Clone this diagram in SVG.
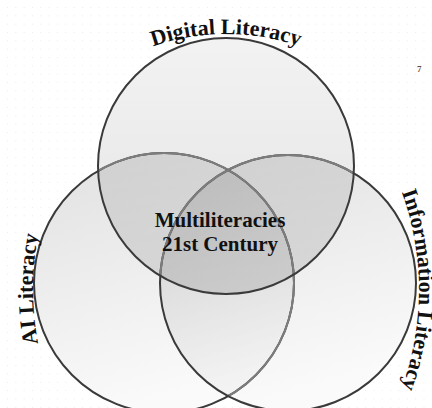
<svg xmlns="http://www.w3.org/2000/svg" width="432" height="408" viewBox="0 0 432 408">
  <defs>
    <pattern id="dots" x="7" y="7" width="8.33" height="8.33" patternUnits="userSpaceOnUse">
      <circle cx="0" cy="0" r="0.9" fill="#e2e2e2"/>
    </pattern>
    <linearGradient id="gTop" x1="0" y1="0" x2="0" y2="1">
      <stop offset="0" stop-color="#000" stop-opacity="0.05"/>
      <stop offset="1" stop-color="#000" stop-opacity="0.11"/>
    </linearGradient>
    <linearGradient id="gSide" x1="0" y1="0" x2="0.3" y2="1">
      <stop offset="0" stop-color="#000" stop-opacity="0.12"/>
      <stop offset="1" stop-color="#000" stop-opacity="0.02"/>
    </linearGradient>
    <clipPath id="clipRT">
      <circle cx="288" cy="283" r="128"/>
      <circle cx="226" cy="166" r="128"/>
    </clipPath>
    <clipPath id="clipT">
      <circle cx="226" cy="166" r="128"/>
    </clipPath>
    <path id="arcTop" d="M 115 63.7 A 222 222 0 0 1 337 63.7"/>
    <path id="arcLeft" d="M 61.2 415.8 A 300 300 0 0 1 61.2 162.2"/>
    <path id="arcRight" d="M 392.1 168.7 A 287 287 0 0 1 392.1 411.3"/>
    <style>
      .lbl { font-family: "Liberation Serif", "Times New Roman", serif; font-weight: bold; font-size: 22px; fill: #111; }
      .mid { font-family: "Liberation Serif", "Times New Roman", serif; font-weight: bold; font-size: 21px; fill: #111; text-anchor: middle; }
      .edge { fill: none; stroke: #3a3a3a; stroke-width: 2; }
      .edge-light { fill: none; stroke: #7d7d7d; stroke-width: 2; }
    </style>
  </defs>

  <rect x="0" y="0" width="432" height="408" fill="#ffffff"/>
  <rect x="0" y="0" width="432" height="408" fill="url(#dots)"/>

  <g id="underlay" fill="#ffffff">
    <circle cx="164" cy="283" r="130"/>
    <circle cx="288" cy="283" r="128"/>
    <circle cx="226" cy="166" r="128"/>
  </g>

  <g id="ai-literacy">
    <circle cx="164" cy="283" r="130" fill="url(#gSide)"/>
  </g>
  <g id="information-literacy">
    <circle cx="288" cy="283" r="128" fill="url(#gSide)"/>
  </g>
  <g id="digital-literacy">
    <circle cx="226" cy="166" r="128" fill="url(#gTop)"/>
  </g>

  <g id="connectors">
    <circle class="edge" cx="164" cy="283" r="130"/>
    <circle class="edge-light" cx="164" cy="283" r="130" clip-path="url(#clipRT)"/>
    <circle class="edge" cx="288" cy="283" r="128"/>
    <circle class="edge-light" cx="288" cy="283" r="128" clip-path="url(#clipT)"/>
    <circle class="edge" cx="226" cy="166" r="128"/>
  </g>

  <g id="labels">
    <text class="lbl"><textPath href="#arcTop" startOffset="50%" text-anchor="middle">Digital Literacy</textPath></text>
    <text class="lbl"><textPath href="#arcLeft" startOffset="50%" text-anchor="middle">AI Literacy</textPath></text>
    <text class="lbl"><textPath href="#arcRight" startOffset="50%" text-anchor="middle">Information Literacy</textPath></text>
  </g>

  <g id="center">
    <text class="mid" x="220" y="227">Multiliteracies</text>
    <text class="mid" x="220" y="251">21st Century</text>
  </g>

  <text x="417" y="72" font-family="Liberation Serif, serif" font-weight="bold" font-size="9" fill="#6b4c3b">7</text>
</svg>
